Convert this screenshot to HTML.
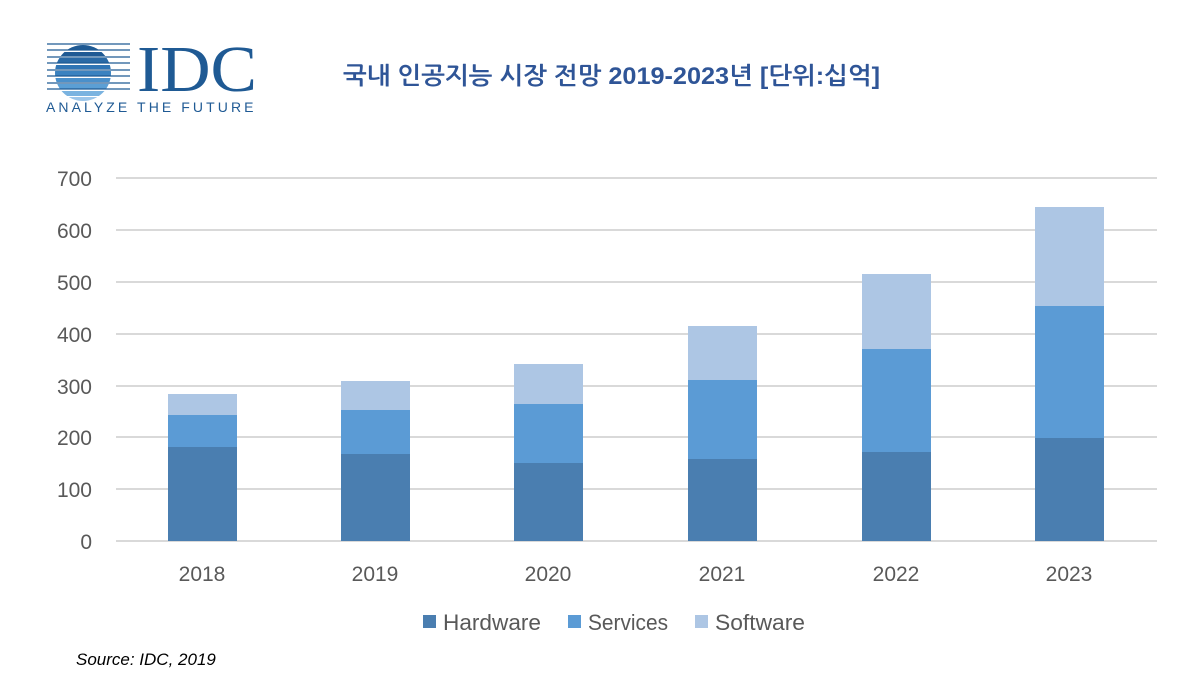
<!DOCTYPE html>
<html><head><meta charset="utf-8"><style>
html,body{margin:0;padding:0;background:#fff;}
svg{display:block;}
</style></head><body>
<svg width="1179" height="681" viewBox="0 0 1179 681" xmlns="http://www.w3.org/2000/svg" font-family="Liberation Sans, NanumGothic, sans-serif">
<rect width="1179" height="681" fill="#fff"/>
<defs><clipPath id="c"><circle cx="83" cy="73" r="28"/></clipPath></defs>
<g clip-path="url(#c)">
<rect x="50" y="45" width="70" height="5" fill="#1f5a94"/>
<rect x="50" y="52" width="70" height="4" fill="#1f5a94"/>
<rect x="50" y="58" width="70" height="5" fill="#2a6aa6"/>
<rect x="50" y="65" width="70" height="4" fill="#2f75b5"/>
<rect x="50" y="71" width="70" height="5" fill="#3a82c0"/>
<rect x="50" y="78" width="70" height="4" fill="#4a90cb"/>
<rect x="50" y="84" width="70" height="5" fill="#5b9fd5"/>
<rect x="50" y="91" width="70" height="5" fill="#7ab3e0"/>
<rect x="50" y="97" width="70" height="5" fill="#9cc6ea"/>
</g>
<g stroke="#1f5a94" stroke-width="1.3">
<line x1="47" y1="44" x2="130" y2="44"/><line x1="47" y1="50" x2="130" y2="50"/><line x1="47" y1="57" x2="130" y2="57"/><line x1="47" y1="63" x2="130" y2="63"/><line x1="47" y1="70" x2="130" y2="70"/><line x1="47" y1="76" x2="130" y2="76"/><line x1="47" y1="83" x2="130" y2="83"/><line x1="47" y1="89" x2="130" y2="89"/>
</g>
<text x="137" y="91" font-family="Liberation Serif, serif" font-size="66" fill="#1f5a94" textLength="120" lengthAdjust="spacingAndGlyphs">IDC</text>
<text x="46" y="112" font-size="14" fill="#1f5a94" letter-spacing="2.5" textLength="210" lengthAdjust="spacing">ANALYZE THE FUTURE</text>
<text x="343" y="84" font-size="24" font-weight="bold" fill="#2f5597" textLength="537" lengthAdjust="spacingAndGlyphs" font-family="Liberation Sans, NanumGothic, Noto Sans CJK KR, sans-serif">국내 인공지능 시장 전망 2019-2023년 [단위:십억]</text>
<g stroke="#d9d9d9" stroke-width="2">
<line x1="116" y1="178" x2="1157" y2="178"/><line x1="116" y1="230" x2="1157" y2="230"/><line x1="116" y1="282" x2="1157" y2="282"/><line x1="116" y1="334" x2="1157" y2="334"/><line x1="116" y1="386" x2="1157" y2="386"/><line x1="116" y1="437" x2="1157" y2="437"/><line x1="116" y1="489" x2="1157" y2="489"/><line x1="116" y1="541" x2="1157" y2="541"/>
</g>
<g font-size="21" fill="#595959" text-anchor="end">
<text x="92" y="186">700</text><text x="92" y="238">600</text><text x="92" y="290">500</text><text x="92" y="342">400</text><text x="92" y="394">300</text><text x="92" y="445">200</text><text x="92" y="497">100</text><text x="92" y="549">0</text>
</g>
<g>
<rect x="168" y="394" width="69" height="21" fill="#adc6e4"/><rect x="168" y="415" width="69" height="32" fill="#5b9bd5"/><rect x="168" y="447" width="69" height="94" fill="#4a7eb0"/>
<rect x="341" y="381" width="69" height="29" fill="#adc6e4"/><rect x="341" y="410" width="69" height="44" fill="#5b9bd5"/><rect x="341" y="454" width="69" height="87" fill="#4a7eb0"/>
<rect x="514" y="364" width="69" height="40" fill="#adc6e4"/><rect x="514" y="404" width="69" height="59" fill="#5b9bd5"/><rect x="514" y="463" width="69" height="78" fill="#4a7eb0"/>
<rect x="688" y="326" width="69" height="54" fill="#adc6e4"/><rect x="688" y="380" width="69" height="79" fill="#5b9bd5"/><rect x="688" y="459" width="69" height="82" fill="#4a7eb0"/>
<rect x="862" y="274" width="69" height="75" fill="#adc6e4"/><rect x="862" y="349" width="69" height="103" fill="#5b9bd5"/><rect x="862" y="452" width="69" height="89" fill="#4a7eb0"/>
<rect x="1035" y="207" width="69" height="99" fill="#adc6e4"/><rect x="1035" y="306" width="69" height="132" fill="#5b9bd5"/><rect x="1035" y="438" width="69" height="103" fill="#4a7eb0"/>
</g>
<g font-size="21" fill="#595959" text-anchor="middle">
<text x="202" y="581">2018</text><text x="375" y="581">2019</text><text x="548" y="581">2020</text><text x="722" y="581">2021</text><text x="896" y="581">2022</text><text x="1069" y="581">2023</text>
</g>
<rect x="423" y="615" width="13" height="13" fill="#4a7eb0"/>
<rect x="568" y="615" width="13" height="13" fill="#5b9bd5"/>
<rect x="695" y="615" width="13" height="13" fill="#adc6e4"/>
<g font-size="22" fill="#595959">
<text x="443" y="630" textLength="98" lengthAdjust="spacingAndGlyphs">Hardware</text><text x="588" y="630" textLength="80" lengthAdjust="spacingAndGlyphs">Services</text><text x="715" y="630" textLength="90" lengthAdjust="spacingAndGlyphs">Software</text>
</g>
<text x="76" y="665" font-size="17" font-style="italic" fill="#000">Source: IDC, 2019</text>
</svg>
</body></html>
